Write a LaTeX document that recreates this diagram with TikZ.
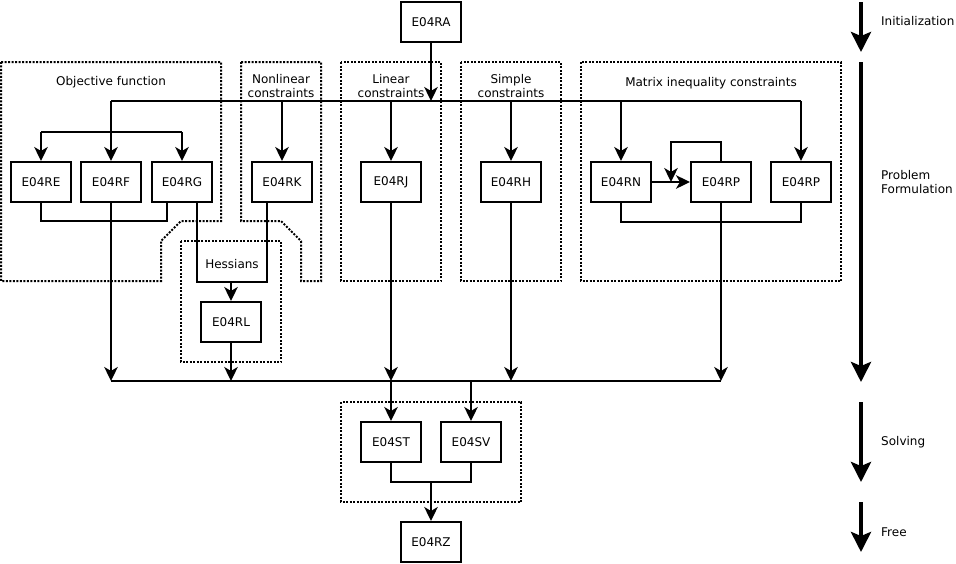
\documentclass[tikz,border=0pt]{standalone}
\usepackage{fontspec}
\setmainfont{DejaVu Sans}
\usetikzlibrary{arrows.meta}
\begin{document}
\begin{tikzpicture}[x=1pt,y=-1pt,
  font=\fontsize{12}{14}\selectfont,
  fbox/.style={draw,line width=2pt,minimum width=60pt,minimum height=40pt,inner sep=0pt},
  conn/.style={line width=2pt},
  arr/.style={conn,-{Stealth[length=14pt,width=13.5pt,inset=4pt]}},
  bigarr/.style={line width=4pt,-{Stealth[length=20pt,width=20pt,inset=4pt]}},
  grp/.style={line width=2pt,dash pattern=on 2pt off 1.5pt},
  lbl/.style={align=center,inner sep=0pt},
  side/.style={anchor=west,align=left,inner sep=0pt}]
\useasboundingbox (0,0) rectangle (956,563);

% groups
\draw[grp] (1,62) -- (221,62) -- (221,221) -- (181,221) -- (161,241) -- (161,281) -- (1,281) -- cycle;
\draw[grp] (241,62) -- (321,62) -- (321,281) -- (301,281) -- (301,241) -- (281,221) -- (241,221) -- cycle;
\draw[grp] (181,241) rectangle (281,362);
\draw[grp] (341,62) rectangle (441,281);
\draw[grp] (461,62) rectangle (561,281);
\draw[grp] (581,62) rectangle (841,281);
\draw[grp] (341,402) rectangle (521,502);

% group labels
\node[lbl] (lobj) at (111,82) {Objective function};
\node[lbl] (lnl) at (281,86) {Nonlinear\\constraints};
\node[lbl] (llin) at (391,86) {Linear\\constraints};
\node[lbl] (lsim) at (511,86) {Simple\\constraints};
\node[lbl] (lmat) at (711,83) {Matrix inequality constraints};
\node[lbl] (lhes) at (232,264) {Hessians};

% boxes
\node[fbox] (RA) at (431,22) {E04RA};
\node[fbox] (RE) at (41,182) {E04RE};
\node[fbox] (RF) at (111,182) {E04RF};
\node[fbox] (RG) at (182,182) {E04RG};
\node[fbox] (RK) at (282,182) {E04RK};
\node[fbox] (RL) at (231,322) {E04RL};
\node[fbox] (RJ) at (391,182) {E04RJ};
\node[fbox] (RH) at (511,182) {E04RH};
\node[fbox] (RN) at (621,182) {E04RN};
\node[fbox] (RP1) at (721,182) {E04RP};
\node[fbox] (RP2) at (801,182) {E04RP};
\node[fbox] (ST) at (391,442) {E04ST};
\node[fbox] (SV) at (471,442) {E04SV};
\node[fbox] (RZ) at (431,542) {E04RZ};

% coordinates
\coordinate (tl) at (111,101);
\coordinate (tr) at (801,101);
\coordinate (ta) at (431,101);
\coordinate (ol) at (41,132);
\coordinate (or) at (182,132);
\coordinate (bl) at (111,381);
\coordinate (br) at (721,381);

% top distribution
\draw[arr] (RA) -- (ta);
\draw[conn] (tl) -- (tr);
\draw[arr] (tl) -- (RF);
\draw[conn] (ol) -- (or);
\draw[arr] (ol) -- (RE);
\draw[arr] (or) -- (RG);
\draw[arr] (282,101) -- (RK);
\draw[arr] (391,101) -- (RJ);
\draw[arr] (511,101) -- (RH);
\draw[arr] (621,101) -- (RN);
\draw[arr] (tr) -- (RP2);

% objective joins
\draw[conn] (RE.south) -- (41,221) -- (167,221) -- ([xshift=-15pt]RG.south);
\draw[conn] ([xshift=15pt]RG.south) -- (197,282) -- (267,282) -- ([xshift=-15pt]RK.south);
\draw[arr] (231,282) -- (RL);

% matrix
\draw[arr] (RN) -- (RP1);
\draw[conn] (RP1.north) -- (721,142) -- (671,142) -- (671,145);
\draw[arr] (671,142) -- (671,182);
\draw[conn] (RN.south) -- (621,222) -- (801,222) -- (RP2.south);

% down to bus
\draw[conn] (bl) -- (br);
\draw[arr] (RF) -- (bl);
\draw[arr] (RL) -- (231,381);
\draw[arr] (RJ) -- (391,381);
\draw[arr] (RH) -- (511,381);
\draw[arr] (RP1) -- (br);

% solving
\draw[arr] (391,381) -- (ST);
\draw[arr] (471,381) -- (SV);
\draw[conn] (ST.south) -- (391,482) -- (471,482) -- (SV.south);
\draw[arr] (431,482) -- (RZ);

% phases
\coordinate (p0) at (861,2);
\coordinate (p1) at (861,52);
\coordinate (p2) at (861,62);
\coordinate (p3) at (861,382);
\coordinate (p4) at (861,402);
\coordinate (p5) at (861,482);
\coordinate (p6) at (861,502);
\coordinate (p7) at (861,552);
\draw[bigarr] (p0) -- (p1);
\draw[bigarr] (p2) -- (p3);
\draw[bigarr] (p4) -- (p5);
\draw[bigarr] (p6) -- (p7);
\node[side] (tinit) at (881,21) {Initialization};
\node[side] (tprob) at (881,182) {Problem\\Formulation};
\node[side] (tsolv) at (881,442) {Solving};
\node[side] (tfree) at (881,532) {Free};
\end{tikzpicture}
\end{document}
